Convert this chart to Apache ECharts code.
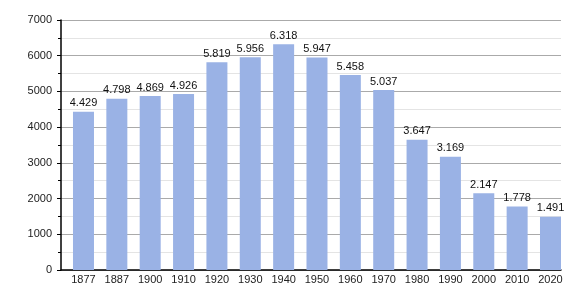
<!DOCTYPE html>
<html><head><meta charset="utf-8">
<script src="https://cdn.jsdelivr.net/npm/echarts@6/dist/echarts.min.js"></script>
<style>html,body{margin:0;padding:0;background:#fff}#c{width:580px;height:300px}</style>
</head><body><div id="c"></div>
<script>
const years = ['1877','1887','1900','1910','1920','1930','1940','1950','1960','1970','1980','1990','2000','2010','2020'];
const population = [4429,4798,4869,4926,5819,5956,6318,5947,5458,5037,3647,3169,2147,1778,1491];
const yTicks = [0,1000,2000,3000,4000,5000,6000,7000];

const idx = years.map((_, i) => i);
const fmt = v => String(v).replace(/\B(?=(\d{3})+(?!\d))/g, '.');
const chart = echarts.init(document.getElementById('c'), null, {renderer:'canvas'});
chart.setOption({
  animation:false,
  textStyle:{fontFamily:'Liberation Sans, Arial, sans-serif'},
  grid:{left:61,right:19,top:20,bottom:30,containLabel:false},
  xAxis:{
    type:'value', min:-0.674, max:14.315,
    axisLine:{show:true,onZero:false,lineStyle:{color:'#000',width:1.5}},
    axisTick:{show:false},
    splitLine:{show:false},
    axisLabel:{customValues:idx, formatter:v=>years[Math.round(v)], color:'#222', fontSize:11, margin:4}
  },
  yAxis:{
    type:'value', min:yTicks[0], max:yTicks[yTicks.length-1], interval:1000,
    axisLine:{show:true,onZero:false,lineStyle:{color:'#000',width:1.5}},
    axisTick:{show:true,length:4,lineStyle:{color:'#000'}},
    minorTick:{show:true,splitNumber:2,length:3,lineStyle:{color:'#000'}},
    splitLine:{show:true,lineStyle:{color:'#aaaaaa',width:1}},
    minorSplitLine:{show:true,lineStyle:{color:'#e4e4e4',width:1}},
    axisLabel:{color:'#222',fontSize:11,margin:9,formatter:v=>String(v)}
  },
  series:[{
    type:'bar',
    data: population.map((v,i)=>[i,v]),
    barWidth:21,
    itemStyle:{color:'#9ab2e5'},
    label:{show:true,position:'top',distance:3,color:'#111',fontSize:11,formatter:p=>fmt(p.value[1])}
  }]
});
</script></body></html>
